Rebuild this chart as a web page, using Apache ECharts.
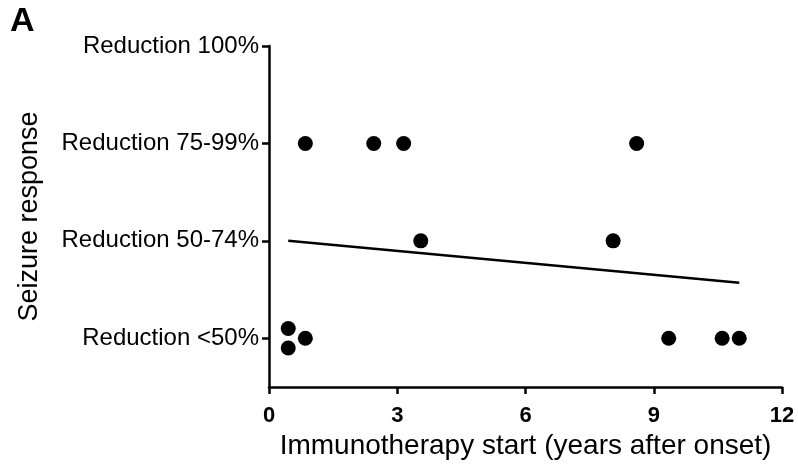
<!DOCTYPE html>
<html><head><meta charset="utf-8">
<script src="https://cdn.jsdelivr.net/npm/echarts@6/dist/echarts.min.js"></script>
<style>html,body{margin:0;padding:0;background:#fff}#c{width:798px;height:471px}</style>
</head><body><div id="c"></div>
<script>
var yCategories = ['Reduction <50%', 'Reduction 50-74%', 'Reduction 75-99%', 'Reduction 100%'];
var xTicks = [0, 3, 6, 9, 12];
var pointsX = [0.85, 2.45, 3.15, 8.6, 3.55, 8.05, 0.45, 0.45, 0.85, 9.35, 10.6, 11.0];
var pointsY = [2, 2, 2, 2, 1, 1, 0.1, -0.1, 0, 0, 0, 0];
var trendX = [0.45, 11.0];
var trendY = [1.0, 0.57];

var chart = echarts.init(document.getElementById('c'), null, {renderer: 'canvas'});
var font = 'Arial, "Liberation Sans", sans-serif';
chart.setOption({
  animation: false,
  backgroundColor: '#fff',
  title: {text: 'A', left: 5, top: 0, textStyle: {fontFamily: font, fontSize: 34, fontWeight: 'bold', color: '#000'}},
  grid: {left: 269, right: 16, top: 46, bottom: 84, containLabel: false},
  xAxis: {
    type: 'value', min: 0, max: 12, interval: 3,
    name: 'Immunotherapy start (years after onset)', nameLocation: 'middle', nameGap: 43,
    nameTextStyle: {fontFamily: font, fontSize: 28, color: '#000'},
    axisLine: {onZero: false, lineStyle: {color: '#000', width: 2.5}},
    axisTick: {show: true, inside: false, length: 7, lineStyle: {color: '#000', width: 2.5}},
    axisLabel: {fontFamily: font, fontSize: 22, fontWeight: 'bold', color: '#000', margin: 18},
    splitLine: {show: false}
  },
  yAxis: {
    type: 'value', min: -0.5, max: 3,
    name: 'Seizure response', nameLocation: 'middle', nameGap: 226, nameRotate: 90,
    nameTextStyle: {fontFamily: font, fontSize: 27, color: '#000'},
    axisLine: {show: true, onZero: false, lineStyle: {color: '#000', width: 2.5}},
    axisTick: {show: true, length: 7, customValues: [0, 1, 2, 3], lineStyle: {color: '#000', width: 2.5}},
    axisLabel: {fontFamily: font, fontSize: 24, color: '#000', margin: 10,
      customValues: [0, 1, 2, 3],
      formatter: function (v) { return yCategories[Math.round(v)] || ''; }},
    splitLine: {show: false}
  },
  series: [
    {type: 'scatter', symbol: 'circle', symbolSize: 15, itemStyle: {color: '#000', opacity: 1},
     data: pointsX.map(function (x, i) { return [x, pointsY[i]]; })},
    {type: 'line', symbol: 'none', lineStyle: {color: '#000', width: 2.5},
     data: trendX.map(function (x, i) { return [x, trendY[i]]; })}
  ]
});
</script></body></html>
